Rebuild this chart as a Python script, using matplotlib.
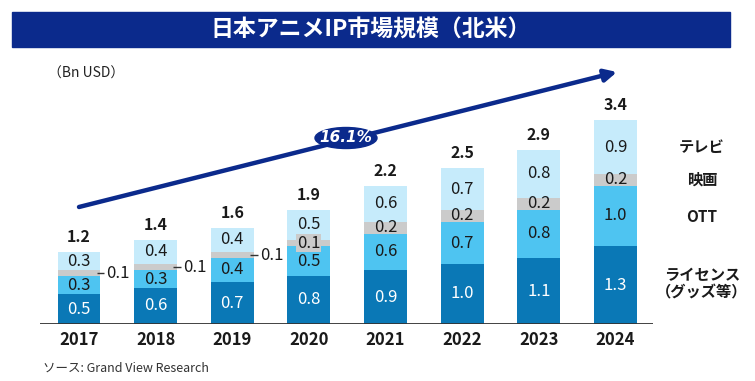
import matplotlib
matplotlib.use("Agg")
import matplotlib.pyplot as plt
from matplotlib.patches import Rectangle, Ellipse

plt.rcParams["font.family"] = ["Noto Sans CJK JP", "DejaVu Sans"]

# data (Bn USD)
years = ["2017", "2018", "2019", "2020", "2021", "2022", "2023", "2024"]
license_vals = [0.5, 0.6, 0.7, 0.8, 0.9, 1.0, 1.1, 1.3]
ott_vals = [0.3, 0.3, 0.4, 0.5, 0.6, 0.7, 0.8, 1.0]
movie_vals = [0.1, 0.1, 0.1, 0.1, 0.2, 0.2, 0.2, 0.2]
tv_vals = [0.3, 0.4, 0.4, 0.5, 0.6, 0.7, 0.8, 0.9]
totals = [1.2, 1.4, 1.6, 1.9, 2.2, 2.5, 2.9, 3.4]
series_names = ["ライセンス\n（グッズ等）", "OTT", "映画", "テレビ"]
cagr_label = "16.1%"
outside_years = ["2017", "2018", "2019"]  # movie value written beside the bar

NAVY = "#0b2a8c"
COLORS = ["#0a78b6", "#4ec4f1", "#cbcbcb", "#c6ebfb"]
TEXT_COLORS = ["white", "#1a1a1a", "#1a1a1a", "#1a1a1a"]

W, H = 755, 381
fig = plt.figure(figsize=(W / 100, H / 100), dpi=100)
fig.patch.set_facecolor("white")

# axes placed in pixel terms
ax = fig.add_axes([40 / W, 57 / H, 613 / W, 264 / H])
x = list(range(len(years)))
bw = 0.56

series = [license_vals, ott_vals, movie_vals, tv_vals]
bottoms = [0.0] * len(years)
for k, vals in enumerate(series):
    ax.bar(x, vals, width=bw, bottom=bottoms, color=COLORS[k], edgecolor="none")
    for i, v in enumerate(vals):
        yc = bottoms[i] + v / 2
        if k == 2 and years[i] in outside_years:
            ax.plot([i + bw / 2 - 0.05, i + bw / 2 + 0.05], [yc, yc],
                    color="#333333", lw=1.0, solid_capstyle="butt")
            ax.text(i + bw / 2 + 0.08, yc, f"{v:.1f}", ha="left", va="center",
                    fontsize=12, color="#1a1a1a")
        elif k == 2 and v < 0.15:
            # thin slice: label drawn on a gray patch of the same colour
            ax.text(i, yc, f"{v:.1f}", ha="center", va="center", fontsize=12,
                    color="#1a1a1a",
                    bbox=dict(boxstyle="square,pad=0.05", fc=COLORS[k], ec="none"))
        else:
            ax.text(i, yc, f"{v:.1f}", ha="center", va="center",
                    fontsize=12, color=TEXT_COLORS[k])
    bottoms = [b + v for b, v in zip(bottoms, vals)]

for i, t in enumerate(totals):
    ax.annotate(f"{t:.1f}", (i, bottoms[i]), xytext=(0, 5), textcoords="offset points",
                ha="center", va="bottom", fontsize=11.5, fontweight="bold", color="#1a1a1a")

ax.axhline(0, color="#333333", lw=1.3)
ax.set_xlim(-0.509, 7.49)
ax.set_ylim(0, 4.4)
ax.set_xticks(x)
ax.set_xticklabels(years, fontsize=12, fontweight="bold", color="#1a1a1a")
ax.tick_params(axis="x", length=0, pad=5)
ax.set_yticks([])
for s in ax.spines.values():
    s.set_visible(False)

# title bar
fig.add_artist(Rectangle((12 / W, 1 - 47 / H), 718 / W, 35 / H,
                         transform=fig.transFigure, color=NAVY, zorder=0))
fig.text(371 / W, 1 - 30 / H, "日本アニメIP市場規模（北米）", ha="center", va="center",
         fontsize=16.5, fontweight="bold", color="white")

fig.text(48 / W, 1 - 74 / H, "（Bn USD）", ha="left", va="center", fontsize=10,
         color="#222222")

# growth arrow
ax.annotate("", xy=(617, H - 72), xytext=(79, H - 207), xycoords="figure pixels",
            textcoords="figure pixels", annotation_clip=False,
            arrowprops=dict(arrowstyle="-|>", lw=3.2, color=NAVY, mutation_scale=18,
                            shrinkA=0, shrinkB=0))
fig.add_artist(Ellipse((346 / W, 1 - 138 / H), 62 / W, 21 / H,
                       transform=fig.transFigure, color=NAVY, zorder=5))
fig.text(346 / W, 1 - 138 / H, cagr_label, ha="center", va="center", fontsize=11,
         fontweight="bold", style="italic", color="white", zorder=6,
         family=["DejaVu Sans"])

# series labels on the right
label_y = [284, 217, 180, 147]
for name, ly in zip(series_names, label_y):
    fig.text(702 / W, 1 - ly / H, name, ha="center", va="center", fontsize=11,
             fontweight="bold", color="#1a1a1a", linespacing=1.1)

fig.text(43 / W, 1 - 368 / H, "ソース: Grand View Research", ha="left", va="center",
         fontsize=9, color="#333333")

fig.savefig("out.png", dpi=100, facecolor="white")
